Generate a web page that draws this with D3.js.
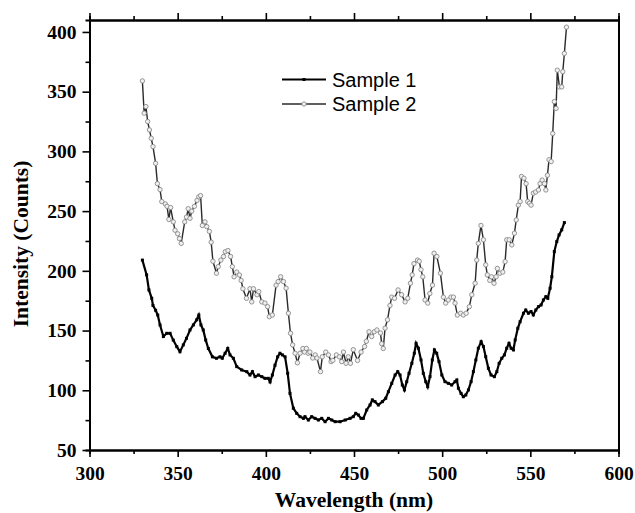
<!DOCTYPE html>
<html><head><meta charset="utf-8">
<script src="https://cdn.jsdelivr.net/npm/d3@7/dist/d3.min.js"></script>
<style>
html,body{margin:0;padding:0;background:#fff;}
svg{display:block;}
.tick text{font-family:"Liberation Serif","Times New Roman",serif;font-weight:bold;font-size:19.5px;fill:#000;}
</style></head>
<body><svg id="chart" width="635" height="513"></svg>
<script>
const seriesNames = ["Sample 1", "Sample 2"];
const xMajorTicks = [300, 350, 400, 450, 500, 550, 600];
const xMinorTicks = [325, 375, 425, 475, 525, 575];
const yMajorTicks = [50, 100, 150, 200, 250, 300, 350, 400];
const yMinorTicks = [75, 125, 175, 225, 275, 325, 375];

const sample1X = [330,332.4,333.7,335.3,336,337.5,338.7,340,341.9,343.8,345.7,347.5,349.5,351.3,353.2,355,357,358.9,360.8,362,363.2,364.5,365.9,367.4,369.7,372,374,375.3,376.9,378.4,379.7,381.6,383.5,386.3,389.2,391,392.4,393.9,395.8,397.7,399.5,401.4,402.4,403.7,405.2,406.7,408,409.4,410.9,412.4,413.7,415.6,417.5,419.4,421.3,422.2,424.1,426,427.9,429.8,431.7,433.6,435.5,437.4,439.3,442.1,445,447.8,449.6,451,452.5,454,455.3,457.2,459.1,460.4,461.9,463.8,466.1,468,469.5,471.4,473.3,474.8,476.1,477.4,478.6,479.9,481.2,482.8,484.2,485.2,486.5,488,489.3,490.7,491.8,493.1,494.4,495.6,496.9,498.2,499.8,501.6,503.5,505.4,507.3,508.3,509.2,510.7,512,513.4,514.9,516.4,517.7,519.1,520.5,522.1,523.4,524.7,526.2,527.7,529.6,531,532.3,533.8,535.3,536.6,537.9,539.1,540.4,541.4,542.9,544.2,546.1,547.4,548.9,550.4,551.7,553.1,554.6,556.1,557.4,558.8,559.9,561.2,562.2,563.6,565,566.3,567.8,569.3];
const sample1Y = [209,196.6,184,177,171,167,163,154.7,145,147.7,147.7,142,136.5,132.3,138,143.5,150.5,154.7,159,163,154.7,150.5,142,135,128,126.8,128,126.8,131,135,129.6,126.8,119.8,117,115.6,112.8,115.6,111.4,112.8,111.4,110,110,107,112.8,121,128,131,129.6,128,114.2,97.4,85,80.7,77.9,76.5,77.9,75.1,77.9,76.5,75.1,76.5,73.7,76.5,75.1,73.7,73.7,75.1,76.5,77.9,80.7,79.3,76.5,76.5,83.5,87.7,91.9,90.5,87.7,90.5,93.3,98.8,105.8,112.8,115.6,112.8,104.4,100.3,107.2,114.2,122.6,131,139.3,135.2,125.4,114.2,107.2,103,111.4,125.4,133.8,131,124,112.8,107.2,105.8,104.4,107.2,108.6,101.7,97.4,94.6,96,100.3,107.2,115.6,125.4,135.2,140.7,136.6,128.1,118.4,112.8,111.4,115.6,122.6,126.8,129.6,135.2,139.3,135.2,133.8,142.1,151.9,157.4,164.5,167.2,164.5,165.9,163.1,167.2,170,171.4,175.6,178.4,177,185.4,195.1,216.1,224.5,230.1,234.3,240.4];

const sample2X = [330,331,332,333,334,335,336,337.5,338.5,340,341,343,344,345,346,347.5,348.5,350,351,352,354,355,356,357,358,359.5,361,362,363,364,365.5,366.5,368,369,370,372,373,374.5,376,377,378.5,380,381,382,383.5,385,386,387,389,391,392,393,395,396,397.7,399.5,401,402,403.7,405.8,407,408.4,410,411.5,412.8,414,415.2,416.6,417.9,419.4,421,422,423,424,425,426.6,428,429,431,432,434,435.5,437,438,440,441.7,443,444,445.5,446.8,448,449.6,452,454,456,457,458.5,460,461.5,463,465,465.7,466.6,467.6,469,470.4,471.4,473,475,477,479,480.5,482,483,484,486,487,488,489,490.3,491.8,493,494.5,495.4,497,499,500.7,502,503.5,505,506.4,507.3,508.6,510.5,512,513.6,515.4,516.8,518.7,519.6,520.5,522,523.4,524.7,525.6,527,528,529.4,530.6,531.3,532.8,534.4,535.7,536.6,538,539.5,541,542,543.2,544.2,545,546.4,547.6,548.5,549.5,550.4,551.7,553,554.6,555.5,556.7,558,558.8,559.7,560.6,561.8,562.7,563.6,564.6,565.3,566.5,567.8,568.4,569.3,570.5];
const sample2Y = [359,332,337.5,325,318,311,304,290,273,268,258,256,254,243,253,241,234,231,227,223,241,245,252,244,250,254,259,262,263,238,241,237,233,224,208,198,203.5,209,212,216,217,212,203.5,195,199,196.5,192,185,177,185,174,185,180,182.6,174,173,170,161.6,163,188,191,195,191,185.5,164.5,147.7,138,131,123,131,135,132,135,131,132,127,129.6,127,115.6,128,132,129.6,124,125,129.6,128,124,132,122.6,128,122.6,134,125,132,136.6,141,149,145,149,150.5,148,139,135,152,159,171,178,177,184,180,174,177,189.6,196.6,206,209,208,201,195,175.6,173,181,188,214.7,212,198,178,173,175.6,178,178,173,163,164.5,163,164.5,170,180,189.6,209,223,238,226,205,196.6,192,195,189.6,195,202,198,199,207.7,226,226,221.7,231.5,242.6,255,258,279,277.5,273,258,256.6,255,265,266,267.7,273,276,273,267.7,280,293,291.5,315,341.7,336,368,354,354,366.7,382,404];

const sample1 = sample1X.map((x, i) => ({x, y: sample1Y[i]}));
const sample2 = sample2X.map((x, i) => ({x, y: sample2Y[i]}));

const W = 635, H = 513;
const m = {left: 89.5, right: 635 - 618.5, top: 20, bottom: 513 - 450};
const svg = d3.select("#chart");
const x = d3.scaleLinear().domain([300, 600]).range([m.left, W - m.right]);
const y = d3.scaleLinear().domain([50, 410]).range([H - m.bottom, m.top]);

const g = svg.append("g");

function styleAxis(sel){
  sel.select(".domain").attr("stroke", "#000").attr("stroke-width", 2);
  sel.selectAll(".tick line").attr("stroke", "#000").attr("stroke-width", 1.6);
}
// bottom
g.append("g").attr("transform", `translate(0,${y(50)})`)
  .call(d3.axisBottom(x).tickValues(xMinorTicks).tickSize(4).tickFormat("")).call(styleAxis);
g.append("g").attr("transform", `translate(0,${y(50)})`)
  .call(d3.axisBottom(x).tickValues(xMajorTicks).tickSize(7).tickPadding(9).tickSizeOuter(0).tickFormat(d3.format("d"))).call(styleAxis);
// top
g.append("g").attr("transform", `translate(0,${y(410)})`)
  .call(d3.axisTop(x).tickValues(xMinorTicks).tickSize(4).tickFormat("")).call(styleAxis);
g.append("g").attr("transform", `translate(0,${y(410)})`)
  .call(d3.axisTop(x).tickValues(xMajorTicks).tickSize(7).tickSizeOuter(0).tickFormat("")).call(styleAxis);
// left
g.append("g").attr("transform", `translate(${x(300)},0)`)
  .call(d3.axisLeft(y).tickValues(yMinorTicks).tickSize(4).tickFormat("")).call(styleAxis);
g.append("g").attr("transform", `translate(${x(300)},0)`)
  .call(d3.axisLeft(y).tickValues(yMajorTicks).tickSize(7).tickPadding(6).tickSizeOuter(0).tickFormat(d3.format("d"))).call(styleAxis);
// right
g.append("g").attr("transform", `translate(${x(600)},0)`)
  .call(d3.axisRight(y).tickValues([]).tickSizeOuter(0)).call(styleAxis);

g.selectAll(".tick text").attr("fill", "#000");

const line = d3.line().x(d => x(d.x)).y(d => y(d.y));

// Sample 2
g.append("path").datum(sample2).attr("d", line)
  .attr("fill", "none").attr("stroke", "#2a2a2a").attr("stroke-width", 1.4);
g.selectAll("circle.s2").data(sample2).join("circle").attr("class", "s2")
  .attr("cx", d => x(d.x)).attr("cy", d => y(d.y)).attr("r", 2.2)
  .attr("fill", "#f0f0f0").attr("stroke", "#8a8a8a").attr("stroke-width", 0.9);

// Sample 1
g.append("path").datum(sample1).attr("d", line)
  .attr("fill", "none").attr("stroke", "#000").attr("stroke-width", 2.2);
g.selectAll("rect.s1").data(sample1).join("rect").attr("class", "s1")
  .attr("x", d => x(d.x) - 1.5).attr("y", d => y(d.y) - 1.5)
  .attr("width", 3).attr("height", 3).attr("fill", "#000");

// Legend
const legend = g.append("g");
const legY = [79.5, 104];
seriesNames.forEach((name, i) => {
  const ly = legY[i];
  legend.append("line").attr("x1", 282).attr("x2", 326).attr("y1", ly).attr("y2", ly)
    .attr("stroke", i === 0 ? "#000" : "#2a2a2a").attr("stroke-width", i === 0 ? 2 : 1.6);
  if (i === 0) {
    legend.append("rect").attr("x", 302.5).attr("y", ly - 1.5).attr("width", 3).attr("height", 3).attr("fill", "#000");
  } else {
    legend.append("circle").attr("cx", 304).attr("cy", ly).attr("r", 2.2)
      .attr("fill", "#f0f0f0").attr("stroke", "#8a8a8a").attr("stroke-width", 0.9);
  }
  legend.append("text").attr("x", 332).attr("y", ly + 7.2)
    .attr("font-family", "'Liberation Sans', Arial, sans-serif").attr("font-size", 20)
    .attr("fill", "#000").text(name);
});

// Axis titles
svg.append("text").attr("x", 354).attr("y", 506.5).attr("text-anchor", "middle")
  .attr("font-family", "'Liberation Serif','Times New Roman',serif").attr("font-weight", "bold")
  .attr("font-size", 21.5).attr("fill", "#000").text("Wavelength (nm)");
svg.append("text").attr("transform", "translate(28,244) rotate(-90)").attr("text-anchor", "middle")
  .attr("font-family", "'Liberation Serif','Times New Roman',serif").attr("font-weight", "bold")
  .attr("font-size", 21.5).attr("fill", "#000").text("Intensity (Counts)");
</script></body></html>
